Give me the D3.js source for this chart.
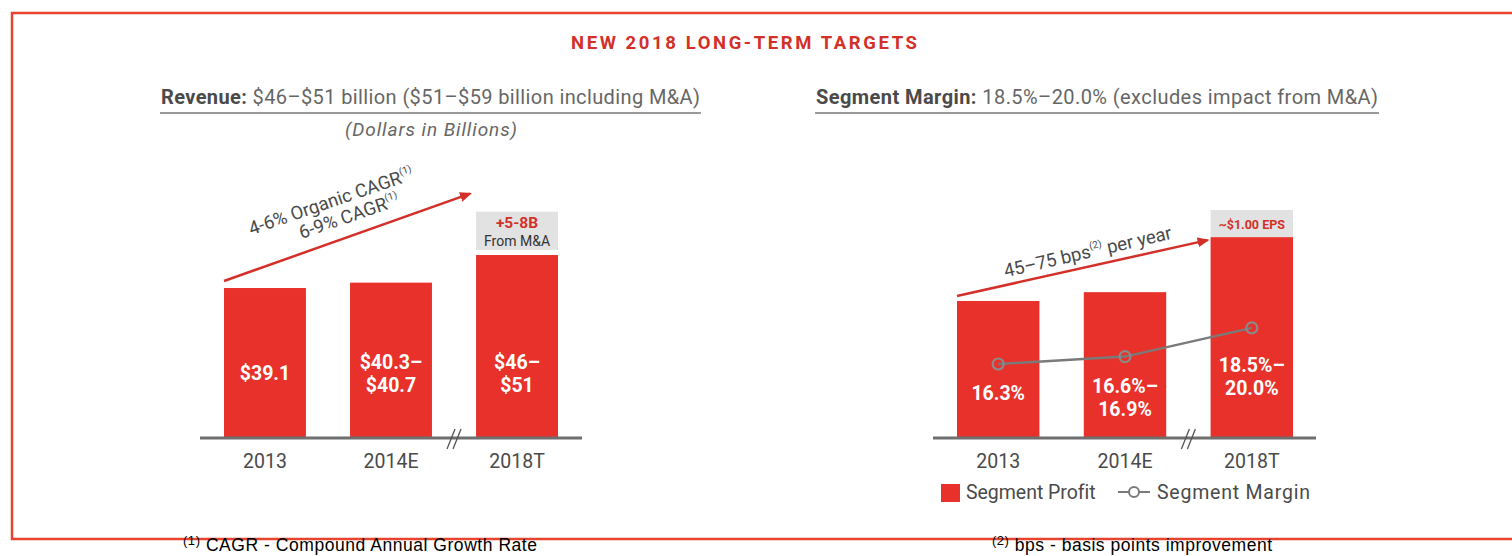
<!DOCTYPE html>
<html><head><meta charset="utf-8">
<script src="https://cdn.jsdelivr.net/npm/d3@7"></script>
<style>
html,body{margin:0;padding:0;background:#fff;}
svg{display:block;font-family:Roboto,"Noto Sans",sans-serif;}
</style></head>
<body>
<svg id="chart" width="1512" height="556"></svg>
<script>
// ---- data ----
const categories = ["2013", "2014E", "2018T"];
const revenue = [39.1, 40.5, 47.7];            // $B (bar heights)
const revenueMaTop = 59;                        // incl. M&A
const revenueLabels = [["$39.1"], ["$40.3–", "$40.7"], ["$46–", "$51"]];
const segmentProfit = [6.37, 6.78, 9.34];       // $B (bar heights)
const epsTop = 10.6;
const segmentMargin = [16.3, 16.75, 18.5];      // %
const marginLabels = [["16.3%"], ["16.6%–", "16.9%"], ["18.5%–", "20.0%"]];

const RED = "#e8312a", DARKRED = "#d3302a", GRAY_TXT = "#4a4a4a";
const svg = d3.select("#chart");

function fitWidth(sel, target) {
  const node = sel.node();
  const len = node.getComputedTextLength();
  const n = node.textContent.length;
  sel.attr("letter-spacing", ((target - len) / (n - 1)).toFixed(3));
}

// frame
svg.append("rect").attr("x", 12).attr("y", 13).attr("width", 1530).attr("height", 526)
  .attr("fill", "none").attr("stroke", "#e8432f").attr("stroke-width", 2.5);

// title
const title = svg.append("text").attr("x", 571).attr("y", 49)
  .attr("font-size", 18.5).attr("font-weight", 700).attr("fill", DARKRED)
  .text("NEW 2018 LONG-TERM TARGETS");
fitWidth(title, 346);

// ---- headings ----
function heading(x, w, bold, rest) {
  const t = svg.append("text").attr("x", x).attr("y", 104).attr("font-size", 20).attr("fill", "#666");
  t.append("tspan").attr("font-weight", 700).attr("fill", GRAY_TXT).text(bold);
  t.append("tspan").text(rest);
  fitWidth(t, w);
  svg.append("line").attr("x1", x - 1).attr("x2", x + w + 1).attr("y1", 113).attr("y2", 113)
    .attr("stroke", "#9a9a9a").attr("stroke-width", 1.8);
}
heading(161, 539, "Revenue: ", "$46–$51 billion ($51–$59 billion including M&A)");
heading(816, 562, "Segment Margin: ", "18.5%–20.0% (excludes impact from M&A)");

const dib = svg.append("text").attr("x", 345).attr("y", 136)
  .attr("font-size", 19).attr("font-style", "italic").attr("fill", "#666")
  .text("(Dollars in Billions)");
fitWidth(dib, 172);

// ---- scales ----
const baseY = 438;
const xL = d3.scaleBand().domain(categories).range([224, 558]).paddingInner(0.35).paddingOuter(0);
const xR = d3.scaleBand().domain(categories).range([957, 1293]).paddingInner(0.35).paddingOuter(0);
const yRev = d3.scaleLinear().domain([0, 60]).range([baseY, baseY - 60 * 3.836]);
const yProf = d3.scaleLinear().domain([0, epsTop]).range([baseY, 210]);
const yMar = d3.scaleLinear().domain([12, 22]).range([434.5, 270.5]);

const arrowDefs = svg.append("defs");
arrowDefs.append("marker").attr("id", "ah").attr("viewBox", "0 0 12 10")
  .attr("refX", 10).attr("refY", 5).attr("markerWidth", 12).attr("markerHeight", 10)
  .attr("markerUnits", "userSpaceOnUse").attr("orient", "auto")
  .append("path").attr("d", "M0,0 L12,5 L0,10 Z").attr("fill", DARKRED);

function panel(x, y, values, axisX0, axisX1) {
  const g = svg.append("g");
  g.selectAll("rect.bar").data(values).join("rect").attr("class", "bar")
    .attr("x", (d, i) => x(categories[i])).attr("width", x.bandwidth())
    .attr("y", d => y(d)).attr("height", d => baseY - y(d)).attr("fill", RED);
  g.append("line").attr("x1", axisX0).attr("x2", axisX1).attr("y1", baseY).attr("y2", baseY)
    .attr("stroke", "#6f6f6f").attr("stroke-width", 3);
  const ax = g.append("g").attr("transform", `translate(0,${baseY})`)
    .call(d3.axisBottom(x).tickSize(0).tickPadding(16));
  ax.select(".domain").remove();
  ax.selectAll("text").attr("font-size", 19.5).attr("fill", GRAY_TXT)
    .attr("font-family", "Roboto, sans-serif");
  const bx = (x(categories[1]) + x.bandwidth() + x(categories[2])) / 2;
  [-3, 3].forEach(o => g.append("line")
    .attr("x1", bx + o - 4).attr("y1", baseY + 11).attr("x2", bx + o + 4).attr("y2", baseY - 9)
    .attr("stroke", "#555").attr("stroke-width", 1.3));
  return g;
}

// ---- left panel ----
const gL = panel(xL, yRev, revenue, 200, 582);
revenueLabels.forEach((lines, i) => {
  const cx = xL(categories[i]) + xL.bandwidth() / 2;
  const t = gL.append("text").attr("text-anchor", "middle").attr("font-size", 19.5)
    .attr("font-weight", 700).attr("fill", "#fff");
  const c = 373, lh = 23;
  lines.forEach((s, k) => t.append("tspan").attr("x", cx)
    .attr("y", c + 7 + (k - (lines.length - 1) / 2) * lh).text(s));
});
{
  const i = 2, bx = xL(categories[i]);
  gL.append("rect").attr("x", bx).attr("width", xL.bandwidth())
    .attr("y", yRev(revenueMaTop)).attr("height", yRev(revenue[i]) - 5 - yRev(revenueMaTop))
    .attr("fill", "#e2e2e2");
  const cx = bx + xL.bandwidth() / 2;
  gL.append("text").attr("x", cx).attr("y", yRev(revenueMaTop) + 16).attr("text-anchor", "middle")
    .attr("font-size", 15.5).attr("font-weight", 700).attr("fill", DARKRED).text("+5-8B");
  gL.append("text").attr("x", cx).attr("y", yRev(revenueMaTop) + 34).attr("text-anchor", "middle")
    .attr("font-size", 14).attr("fill", "#333").text("From M&A");
}
gL.append("line").attr("x1", xL(categories[0])).attr("y1", yRev(revenue[0]) - 7)
  .attr("x2", xL(categories[2]) - 6).attr("y2", yRev(revenueMaTop) - 18)
  .attr("stroke", DARKRED).attr("stroke-width", 2.5).attr("marker-end", "url(#ah)");
{
  const g = gL.append("g").attr("transform", "translate(333,207) rotate(-19)")
    .attr("font-size", 18.5).attr("fill", GRAY_TXT).attr("text-anchor", "middle");
  const t1 = g.append("text").attr("x", 0).attr("y", 0);
  t1.append("tspan").text("4-6% Organic CAGR");
  t1.append("tspan").attr("font-size", 10).attr("dy", -8).text("(1)");
  const t2 = g.append("text").attr("x", 12).attr("y", 20);
  t2.append("tspan").text("6-9% CAGR");
  t2.append("tspan").attr("font-size", 10).attr("dy", -8).text("(1)");
}

// ---- right panel ----
const gR = panel(xR, yProf, segmentProfit, 933, 1316);
{
  const i = 2, bx = xR(categories[i]);
  gR.append("rect").attr("x", bx).attr("width", xR.bandwidth())
    .attr("y", yProf(epsTop)).attr("height", yProf(segmentProfit[i]) - yProf(epsTop))
    .attr("fill", "#e2e2e2");
  gR.append("text").attr("x", bx + xR.bandwidth() / 2).attr("y", yProf(epsTop) + 18.5)
    .attr("text-anchor", "middle").attr("font-size", 12.5).attr("font-weight", 700)
    .attr("fill", DARKRED).text("~$1.00 EPS");
}
marginLabels.forEach((lines, i) => {
  const cx = xR(categories[i]) + xR.bandwidth() / 2;
  const t = gR.append("text").attr("text-anchor", "middle").attr("font-size", 19.5)
    .attr("font-weight", 700).attr("fill", "#fff");
  const top = yMar(segmentMargin[i]) + (i === 2 ? 44 : 36);
  lines.forEach((s, k) => t.append("tspan").attr("x", cx).attr("y", top + k * 23.5).text(s));
});
const pts = segmentMargin.map((v, i) => [xR(categories[i]) + xR.bandwidth() / 2, yMar(v)]);
gR.append("path").attr("d", d3.line()(pts)).attr("fill", "none")
  .attr("stroke", "#7a7a7a").attr("stroke-width", 2.5);
gR.selectAll("circle.pt").data(pts).join("circle").attr("class", "pt")
  .attr("cx", d => d[0]).attr("cy", d => d[1]).attr("r", 5.5)
  .attr("fill", "none").attr("stroke", "#8a8a8a").attr("stroke-width", 2.2);
gR.append("line").attr("x1", xR(categories[0])).attr("y1", yProf(segmentProfit[0]) - 5)
  .attr("x2", xR(categories[2]) - 3).attr("y2", yProf(segmentProfit[2]) + 3)
  .attr("stroke", DARKRED).attr("stroke-width", 2.5).attr("marker-end", "url(#ah)");
{
  const g = gR.append("g").attr("transform", "translate(1089,258) rotate(-13)")
    .attr("font-size", 18.5).attr("fill", GRAY_TXT).attr("text-anchor", "middle");
  const t = g.append("text").attr("x", 0).attr("y", 0);
  t.append("tspan").text("45–75 bps");
  t.append("tspan").attr("font-size", 10).attr("dy", -8).text("(2)");
  t.append("tspan").attr("dy", 8).text(" per year");
}
{
  const lg = svg.append("g").attr("font-size", 19.5).attr("fill", GRAY_TXT);
  lg.append("rect").attr("x", 941).attr("y", 484).attr("width", 19).attr("height", 18).attr("fill", RED);
  const l1 = lg.append("text").attr("x", 966).attr("y", 499).text("Segment Profit");
  fitWidth(l1, 129);
  lg.append("line").attr("x1", 1118).attr("x2", 1150).attr("y1", 492).attr("y2", 492)
    .attr("stroke", "#7a7a7a").attr("stroke-width", 2);
  lg.append("circle").attr("cx", 1134).attr("cy", 492).attr("r", 5)
    .attr("fill", "#fff").attr("stroke", "#7a7a7a").attr("stroke-width", 2);
  const l2 = lg.append("text").attr("x", 1157).attr("y", 499).text("Segment Margin");
  fitWidth(l2, 153);
}

function footnote(x, sup, txt, w) {
  const t = svg.append("text").attr("x", x).attr("y", 551)
    .attr("font-family", "'Liberation Sans', Arial, sans-serif").attr("font-size", 17.5).attr("fill", "#000");
  t.append("tspan").attr("font-size", 13).attr("dy", -6).text(sup);
  t.append("tspan").attr("dy", 6).text(" " + txt);
  fitWidth(t, w);
}
footnote(183, "(1)", "CAGR - Compound Annual Growth Rate", 354);
footnote(992, "(2)", "bps - basis points improvement", 280);
</script>
</body></html>
